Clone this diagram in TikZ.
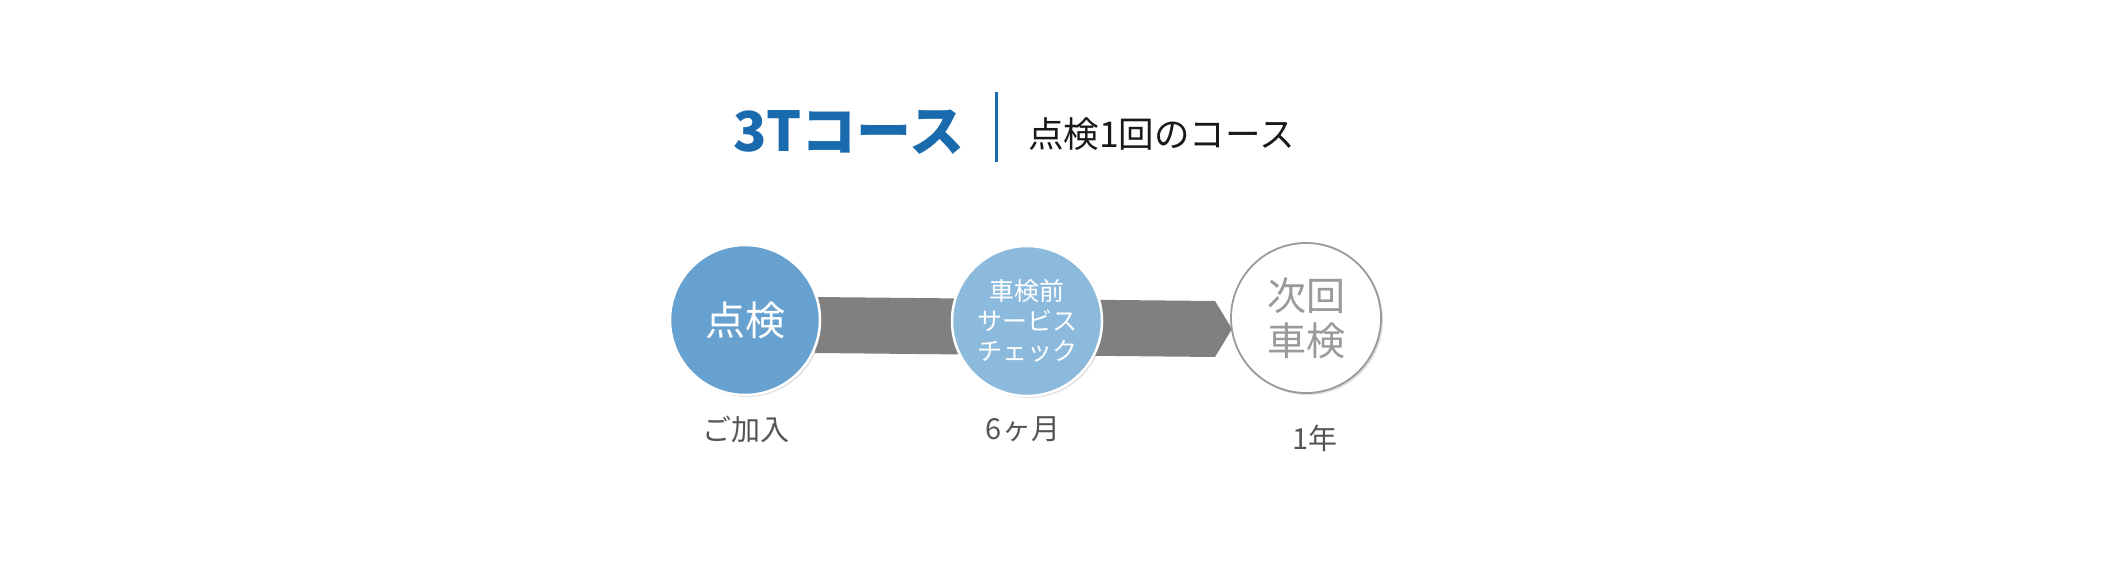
\documentclass[tikz,border=0pt]{standalone}
\usepackage{fontspec}
\newfontfamily\cjk{Noto Sans CJK JP}
\usetikzlibrary{shadows}
\definecolor{titleblue}{HTML}{1A6AAE}
\definecolor{circA}{HTML}{66A1D0}
\definecolor{circB}{HTML}{8CBADC}
\definecolor{bandgray}{HTML}{808080}
\definecolor{labgray}{HTML}{555555}
\definecolor{ringgray}{HTML}{9A9A9A}
\tikzset{
  stepcirc/.style={circle, minimum size=150pt, inner sep=0pt, align=center,
    drop shadow={opacity=0.25, shadow xshift=2pt, shadow yshift=-2pt}},
  labeltext/.style={text=labgray, font=\cjk\fontsize{29}{34}\selectfont}
}
\begin{document}
\begin{tikzpicture}[x=1pt,y=-1pt]
\useasboundingbox[fill=white] (0,0) rectangle (2120,572);
% band
\coordinate (b1) at (815,297);
\coordinate (b2) at (1215,301);
\coordinate (b3) at (1232,329);
\coordinate (b4) at (1215,357);
\coordinate (b5) at (815,353);
\fill[bandgray] (b1) -- (b2) -- (b3) -- (b4) -- (b5) -- cycle;
% circles
\node[stepcirc, fill=circA, draw=white, line width=2.5pt, text=white,
  font=\cjk\fontsize{40}{45}\selectfont] (c1) at (745,320) {点検};
\node[stepcirc, fill=circB, draw=white, line width=2.5pt, text=white,
  font=\cjk\fontsize{25}{30}\selectfont] (c2) at (1027,321) {車検前\\サービス\\チェック};
\node[stepcirc, fill=white, draw=ringgray, line width=1.8pt, text=ringgray,
  font=\cjk\fontsize{39}{45}\selectfont] (c3) at (1306,318) {次回\\車検};
% labels
\node[labeltext] (l1) at (746,429) {ご加入};
\node[labeltext] (l2) at (1023,429) {6ヶ月};
\node[labeltext] (l3) at (1315,438) {1年};
% title
\node[anchor=base west, inner sep=0pt, text=titleblue,
  font=\cjk\bfseries\fontsize{55}{60}\selectfont] (t1) at (733,152) {3Tコース};
\coordinate (s1) at (996,92);
\coordinate (s2) at (996,162);
\draw[titleblue, line width=3pt] (s1) -- (s2);
\node[anchor=base west, inner sep=0pt, text=black!90,
  font=\cjk\fontsize{35.5}{40}\selectfont] (t2) at (1028,148) {点検1回のコース};
\end{tikzpicture}
\end{document}
